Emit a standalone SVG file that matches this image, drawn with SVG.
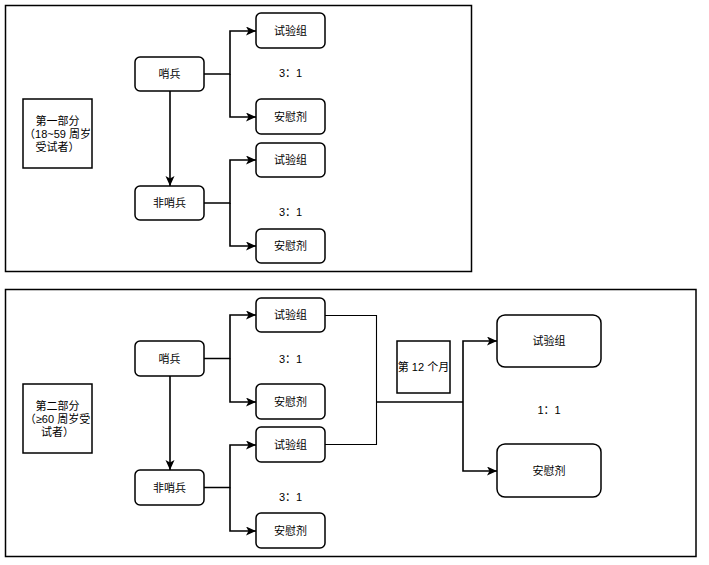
<svg xmlns="http://www.w3.org/2000/svg" width="709" height="565" viewBox="0 0 709 565">
<style>
.frame{fill:#fff;stroke:#000;stroke-width:1.5}
.box{fill:#fff;stroke:#000;stroke-width:1.5}
.node{fill:#fff;stroke:#000;stroke-width:1.5}
.t{font-family:"Liberation Sans","Noto Sans CJK SC",sans-serif;font-size:11px;fill:#000;text-anchor:middle;dominant-baseline:central}
.c{fill:none;stroke:#000;stroke-width:1.6}
.thin{fill:none;stroke:#000;stroke-width:1.1}
</style>
<defs>
<marker id="arr" markerUnits="userSpaceOnUse" markerWidth="11" markerHeight="10" refX="10" refY="4.5" orient="auto">
<path d="M0,0 L10,4.5 L0,9 L2.5,4.5 Z" fill="#000"/>
</marker>
</defs>
<rect width="709" height="565" fill="#fff"/>
<g id="frame1"><rect class="frame" x="5.5" y="5.5" width="466" height="266"/></g>
<g id="frame2"><rect class="frame" x="5.5" y="289.5" width="690.5" height="267"/></g>

<g id="connectors">
<path class="c" d="M170,91 V186" marker-end="url(#arr)"/>
<path class="c" d="M204,74 H230 V31 H256" marker-end="url(#arr)"/>
<path class="c" d="M230,74 V117 H256" marker-end="url(#arr)"/>
<path class="c" d="M204,203 H230 V160 H256" marker-end="url(#arr)"/>
<path class="c" d="M230,203 V246 H256" marker-end="url(#arr)"/>
<path class="c" d="M170,376 V470" marker-end="url(#arr)"/>
<path class="c" d="M204,358.5 H230 V315 H256" marker-end="url(#arr)"/>
<path class="c" d="M230,358.5 V402 H256" marker-end="url(#arr)"/>
<path class="c" d="M204,487.5 H230 V445 H256" marker-end="url(#arr)"/>
<path class="c" d="M230,487.5 V531 H256" marker-end="url(#arr)"/>
<path class="thin" d="M325,315.5 H376.5 V444.5 H325"/>
<path class="c" d="M377,402 H463"/>
<path class="c" d="M463,402 V341 H497" marker-end="url(#arr)"/>
<path class="c" d="M463,402 V471 H497" marker-end="url(#arr)"/>
</g>

<g id="part1">
<rect class="box" x="23" y="99" width="69" height="69"/>
<text class="t" x="57.5" y="121">第一部分</text>
<text class="t" x="57.5" y="134">（18~59 周岁</text>
<text class="t" x="57.5" y="147">受试者）</text>
</g>
<g id="p1-sentinel"><rect class="node" x="135" y="57" width="69" height="34" rx="5"/><text class="t" x="169.5" y="74">哨兵</text></g>
<g id="p1-nonsentinel"><rect class="node" x="135" y="186" width="69" height="34" rx="5"/><text class="t" x="169.5" y="203">非哨兵</text></g>
<g id="p1-trial1"><rect class="node" x="256" y="13" width="69" height="35" rx="5"/><text class="t" x="290.5" y="31">试验组</text></g>
<g id="p1-placebo1"><rect class="node" x="256" y="99" width="69" height="35" rx="5"/><text class="t" x="290.5" y="117">安慰剂</text></g>
<g id="p1-trial2"><rect class="node" x="256" y="143" width="69" height="34" rx="5"/><text class="t" x="290.5" y="160">试验组</text></g>
<g id="p1-placebo2"><rect class="node" x="256" y="229" width="69" height="34" rx="5"/><text class="t" x="290.5" y="246">安慰剂</text></g>
<g id="p1-ratio1"><text class="t" x="290.5" y="73">3：1</text></g>
<g id="p1-ratio2"><text class="t" x="290.5" y="212">3：1</text></g>

<g id="part2">
<rect class="box" x="23" y="384" width="69" height="69"/>
<text class="t" x="57.5" y="406">第二部分</text>
<text class="t" x="57.5" y="419">（≥60 周岁受</text>
<text class="t" x="57.5" y="432">试者）</text>
</g>
<g id="p2-sentinel"><rect class="node" x="135" y="341" width="69" height="35" rx="5"/><text class="t" x="169.5" y="358.5">哨兵</text></g>
<g id="p2-nonsentinel"><rect class="node" x="135" y="470" width="69" height="35" rx="5"/><text class="t" x="169.5" y="487.5">非哨兵</text></g>
<g id="p2-trial1"><rect class="node" x="256" y="298" width="69" height="34" rx="5"/><text class="t" x="290.5" y="315">试验组</text></g>
<g id="p2-placebo1"><rect class="node" x="256" y="384" width="69" height="35" rx="5"/><text class="t" x="290.5" y="401.5">安慰剂</text></g>
<g id="p2-trial2"><rect class="node" x="256" y="427" width="69" height="35" rx="5"/><text class="t" x="290.5" y="444.5">试验组</text></g>
<g id="p2-placebo2"><rect class="node" x="256" y="513" width="69" height="35" rx="5"/><text class="t" x="290.5" y="530.5">安慰剂</text></g>
<g id="p2-ratio1"><text class="t" x="290.5" y="359">3：1</text></g>
<g id="p2-ratio2"><text class="t" x="290.5" y="497">3：1</text></g>
<g id="month12"><rect class="box" x="397" y="341" width="53" height="52"/><text class="t" x="423.5" y="367">第 12 个月</text></g>
<g id="final-trial"><rect class="node" x="497" y="315" width="104" height="52" rx="8"/><text class="t" x="549" y="341">试验组</text></g>
<g id="final-placebo"><rect class="node" x="497" y="444" width="104" height="53" rx="8"/><text class="t" x="549" y="470.5">安慰剂</text></g>
<g id="final-ratio"><text class="t" x="549" y="410">1：1</text></g>
</svg>
